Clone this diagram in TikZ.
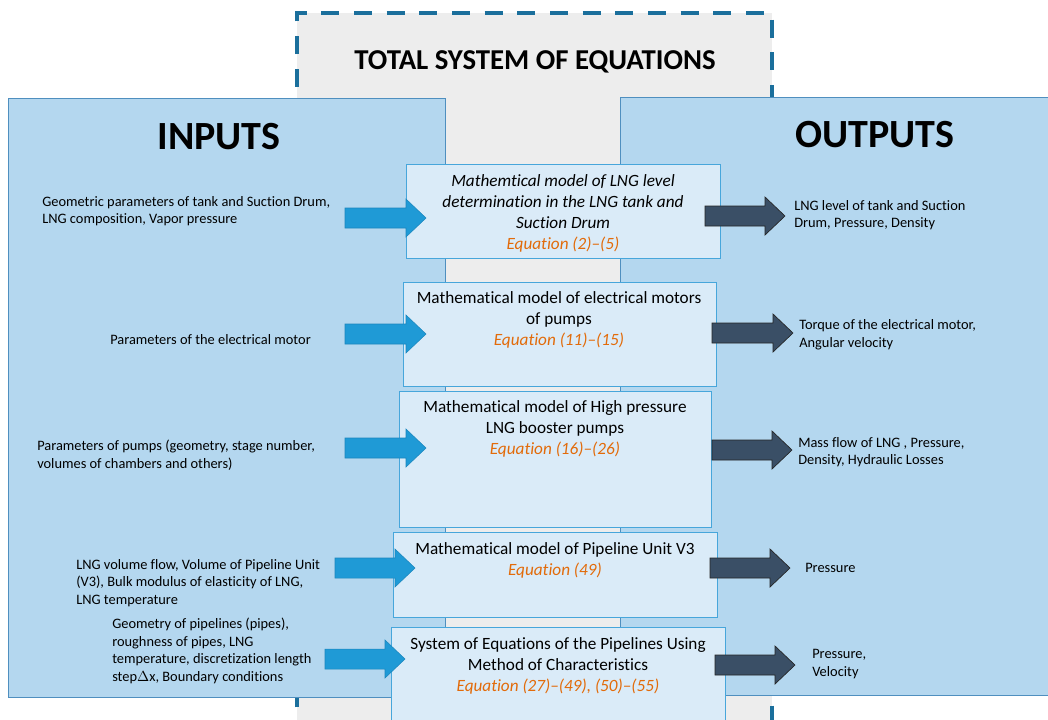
\documentclass[tikz,border=0pt]{standalone}
\usepackage{fontspec}
\setmainfont{Carlito}[Ligatures=NoCommon]
\definecolor{panelfill}{HTML}{B4D7EF}
\definecolor{panelline}{HTML}{4F8FBF}
\definecolor{boxfill}{HTML}{DAEBF8}
\definecolor{boxline}{HTML}{47A6DB}
\definecolor{grayfill}{HTML}{EDEDED}
\definecolor{dashline}{HTML}{1B6F9C}
\definecolor{inarrow}{HTML}{1F9AD6}
\definecolor{inarrowline}{HTML}{1B86BD}
\definecolor{outarrow}{HTML}{3A4F66}
\definecolor{eqorange}{HTML}{E26B0A}
\newcommand{\blockarrow}[4]{% style, tail x, tip x, centre y
  \path[#1] (#2,#4-10) -- (#3-20,#4-10) -- (#3-20,#4-19) -- (#3,#4)
    -- (#3-20,#4+19) -- (#3-20,#4+10) -- (#2,#4+10) -- cycle;}
\begin{document}
\begin{tikzpicture}[x=0.75pt,y=-0.75pt,
  panel/.style={fill=panelfill,draw=panelline,line width=0.9pt},
  modelbox/.style={fill=boxfill,draw=boxline,line width=0.8pt},
  intext/.style={font=\fontsize{10.8}{13.2}\selectfont,align=left,anchor=west,inner sep=0pt},
  modeltext/.style={font=\fontsize{12.9}{15.75}\selectfont,align=center,anchor=north,inner sep=0pt},
  inarr/.style={fill=inarrow,draw=inarrowline,line width=0.4pt},
  outarr/.style={fill=outarrow,draw=black!85,line width=0.5pt},
  heading/.style={font=\bfseries\fontsize{30}{34}\selectfont,inner sep=0pt}]
\useasboundingbox (0,0) rectangle (1048,719);
% total system dashed box
\path[fill=grayfill] (297,13) rectangle (772,725);
\draw[dashline,line width=3pt,dash pattern=on 13.5pt off 11pt] (297,740) -- (297,13) -- (772,13) -- (772,740);
\node[font=\bfseries\fontsize{21.6}{24}\selectfont,inner sep=0pt] (title) at (535,62) {TOTAL SYSTEM OF EQUATIONS};
% panels
\node[panel,minimum width=437*0.75pt,minimum height=599*0.75pt,anchor=north west,inner sep=0pt] (inputs) at (8,98) {};
\node[panel,minimum width=432*0.75pt,minimum height=598*0.75pt,anchor=north west,inner sep=0pt] (outputs) at (620,97) {};
\node[heading] (inh) at (219,137) {INPUTS};
\node[heading] (outh) at (875,135) {OUTPUTS};
% model boxes
\node[modelbox,anchor=north west,minimum width=314*0.75pt,minimum height=94*0.75pt,inner sep=0pt] (m1) at (406,164) {};
\node[modelbox,anchor=north west,minimum width=313*0.75pt,minimum height=104*0.75pt,inner sep=0pt] (m2) at (403,282) {};
\node[modelbox,anchor=north west,minimum width=312*0.75pt,minimum height=136*0.75pt,inner sep=0pt] (m3) at (399,391) {};
\node[modelbox,anchor=north west,minimum width=324*0.75pt,minimum height=85*0.75pt,inner sep=0pt] (m4) at (393,532) {};
\node[modelbox,anchor=north west,minimum width=334*0.75pt,minimum height=110*0.75pt,inner sep=0pt] (m5) at (391,627) {};
\node[modeltext,font=\itshape\fontsize{12.9}{15.75}\selectfont] (t1) at (563,174) {Mathemtical model of LNG level\\determination in the LNG tank and\\Suction Drum\\{\color{eqorange}Equation (2)--(5)}};
\node[modeltext] (t2) at (559,291) {Mathematical model of electrical motors\\of pumps\\{\color{eqorange}\itshape Equation (11)--(15)}};
\node[modeltext] (t3) at (555,400) {Mathematical model of High pressure\\LNG booster pumps\\{\color{eqorange}\itshape Equation (16)--(26)}};
\node[modeltext] (t4) at (555,542) {Mathematical model of Pipeline Unit V3\\{\color{eqorange}\itshape Equation (49)}};
\node[modeltext] (t5) at (558,637) {System of Equations of the Pipelines Using\\Method of Characteristics\\{\color{eqorange}\itshape Equation (27)--(49), (50)--(55)}};
% input texts
\node[intext] (i1) at (42,211) {Geometric parameters of tank and Suction Drum,\\LNG composition, Vapor pressure};
\node[intext] (i2) at (110,340) {Parameters of the electrical motor};
\node[intext] (i3) at (37,455) {Parameters of pumps (geometry, stage number,\\volumes of chambers and others)};
\node[intext] (i4) at (76,583) {LNG volume flow, Volume of Pipeline Unit\\(V3), Bulk modulus of elasticity of LNG,\\LNG temperature};
\node[intext] (i5) at (112,651) {Geometry of pipelines (pipes),\\roughness of pipes, LNG\\temperature, discretization length\\step$\Delta$x, Boundary conditions};
% output texts
\node[intext] (o1) at (794,215) {LNG level of tank and Suction\\Drum, Pressure, Density};
\node[intext] (o2) at (799,335) {Torque of the electrical motor,\\Angular velocity};
\node[intext] (o3) at (798,452) {Mass flow of LNG , Pressure,\\Density, Hydraulic Losses};
\node[intext] (o4) at (805,568) {Pressure};
\node[intext] (o5) at (812,664) {Pressure,\\Velocity};
% input arrows
\blockarrow{inarr}{345}{426}{218}
\blockarrow{inarr}{345}{426}{334}
\blockarrow{inarr}{345}{426}{448}
\blockarrow{inarr}{335}{415}{568}
\blockarrow{inarr}{325}{405}{659}
% output arrows
\blockarrow{outarr}{705}{785}{216}
\blockarrow{outarr}{712}{793}{333}
\blockarrow{outarr}{712}{792}{450}
\blockarrow{outarr}{710}{790}{568}
\blockarrow{outarr}{715}{795}{665}
\end{tikzpicture}
\end{document}
